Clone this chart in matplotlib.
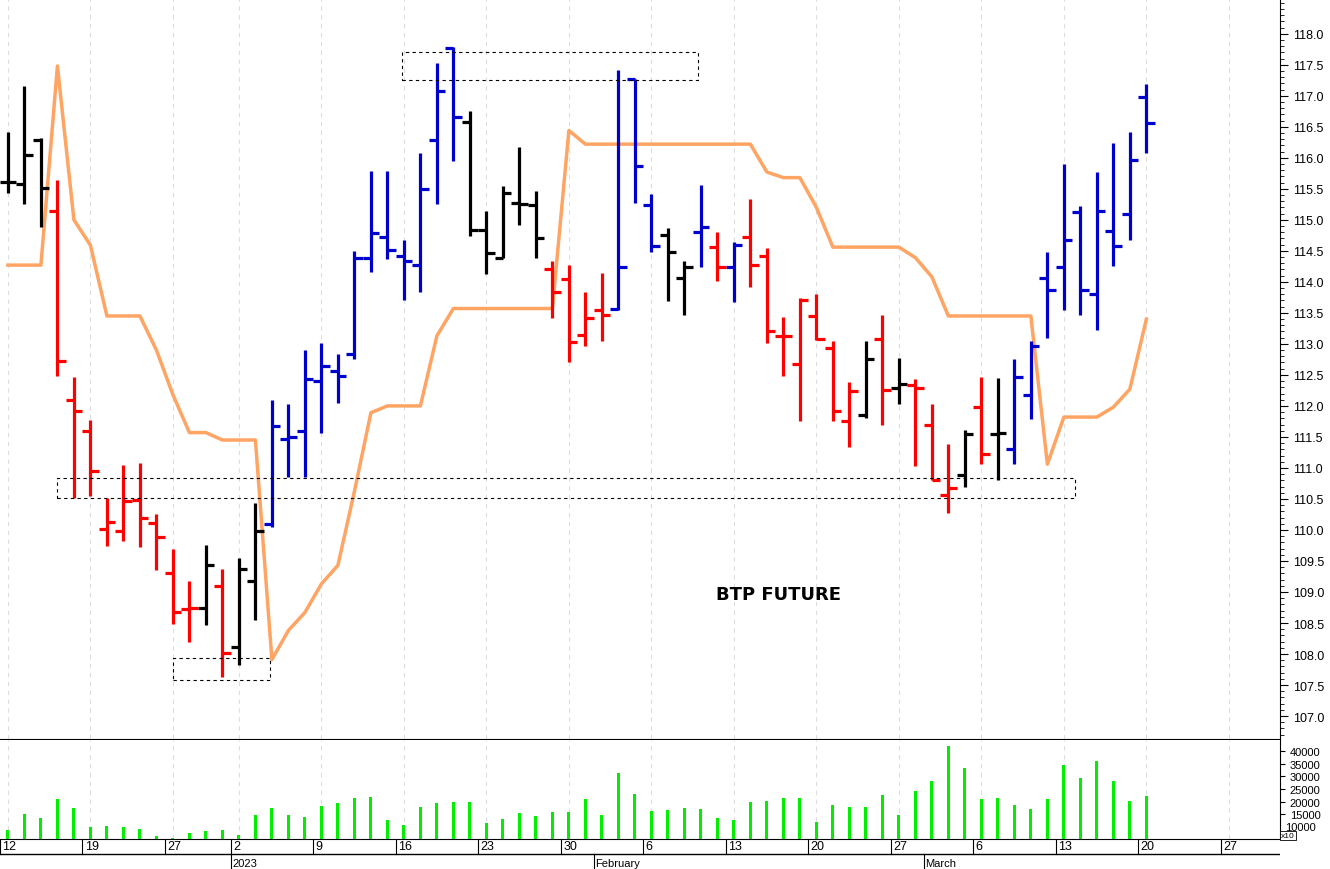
import matplotlib
matplotlib.use("Agg")
import matplotlib.pyplot as plt
import matplotlib.patches as patch
import numpy as np

plt.rcParams["font.family"] = ["Liberation Sans", "DejaVu Sans"]

# daily bars, Dec 12 2022 .. Mar 20 2023 (trading days)
highs = [116.41, 117.16, 116.32, 115.65, 112.47, 111.78, 110.52, 111.05, 111.08, 110.25,
         109.69, 109.18, 109.75, 109.37, 109.54, 110.43, 112.10, 112.03, 112.90, 113.01,
         112.84, 114.49, 115.79, 115.79, 114.68, 116.07, 117.53, 117.78, 116.75, 115.15,
         115.54, 116.17, 115.46, 114.34, 114.27, 113.83, 114.15, 117.41, 117.27, 115.42,
         114.87, 114.34, 115.56, 114.80, 114.64, 115.34, 114.54, 113.44, 113.74, 113.81,
         113.05, 112.39, 113.05, 113.47, 112.78, 112.43, 112.03, 111.39, 111.61, 112.47,
         112.45, 112.76, 113.05, 114.48, 115.90, 115.22, 115.77, 116.24, 116.41, 117.19]
lows = [115.44, 115.26, 114.88, 112.49, 110.52, 110.55, 109.74, 109.83, 109.73, 109.35,
        108.48, 108.20, 108.46, 107.63, 107.82, 108.55, 110.05, 110.86, 110.86, 111.57,
        112.05, 112.75, 114.16, 114.37, 113.70, 113.83, 115.25, 115.95, 114.74, 114.12,
        114.38, 114.91, 114.38, 113.42, 112.71, 112.96, 113.05, 113.54, 115.27, 114.48,
        113.69, 113.46, 114.24, 114.02, 113.68, 113.91, 113.01, 112.49, 111.76, 113.07,
        111.76, 111.33, 111.81, 111.69, 112.03, 111.03, 110.81, 110.28, 110.69, 111.06,
        110.81, 111.06, 111.79, 113.09, 113.55, 113.46, 113.22, 114.25, 114.68, 116.07]
opens = [115.61, 115.58, 116.29, 115.14, 112.10, 111.59, 110.01, 109.99, 110.49, 110.11,
         109.31, 108.72, 108.74, 109.09, 108.12, 109.18, 110.10, 111.47, 111.59, 112.40,
         112.56, 112.84, 114.38, 114.72, 114.42, 114.27, 116.28, 117.77, 116.58, 114.83,
         114.39, 115.27, 115.24, 114.20, 114.05, 113.15, 113.55, 113.57, 117.27, 115.24,
         114.75, 114.07, 114.81, 114.56, 114.24, 114.72, 114.42, 113.13, 112.67, 113.45,
         112.93, 111.76, 111.86, 113.08, 112.29, 112.34, 111.69, 110.57, 110.89, 111.99,
         111.55, 111.30, 112.17, 114.06, 114.24, 115.12, 113.81, 114.82, 115.09, 116.98]
closes = [115.61, 116.05, 115.51, 112.73, 111.91, 110.95, 110.13, 110.47, 110.19, 109.88,
          108.67, 108.74, 109.43, 108.02, 109.37, 109.98, 111.67, 111.50, 112.43, 112.64,
          112.49, 114.38, 114.78, 114.51, 114.34, 115.50, 117.08, 116.65, 114.83, 114.47,
          115.43, 115.25, 114.71, 113.83, 113.03, 113.41, 113.47, 114.24, 115.87, 114.57,
          114.48, 114.24, 114.89, 114.24, 114.59, 114.27, 113.20, 113.13, 113.70, 113.08,
          111.91, 112.24, 112.75, 112.25, 112.35, 112.29, 110.81, 110.68, 111.55, 111.23,
          111.57, 112.47, 112.96, 113.87, 114.67, 113.87, 115.15, 114.58, 115.96, 116.56]
# k = black, r = red, b = blue
bar_colors = list("kkkrrrrrrrrrkrkkbbbbbbbbbbbbkkkkkrrrrbbbkkbrbrrrrrrrkrkrrrkrkbbbbbbbbb")
orange = [114.27, 114.27, 114.27, 117.48, 115.00, 114.59, 113.45, 113.45, 113.45, 112.90,
          112.18, 111.57, 111.57, 111.45, 111.45, 111.45, 107.91, 108.38, 108.67, 109.13,
          109.43, 110.62, 111.89, 112.00, 112.00, 112.00, 113.13, 113.57, 113.57, 113.57,
          113.57, 113.57, 113.57, 113.57, 116.44, 116.22, 116.22, 116.22, 116.22, 116.22,
          116.22, 116.22, 116.22, 116.22, 116.22, 116.22, 115.77, 115.68, 115.68, 115.20,
          114.56, 114.56, 114.56, 114.56, 114.56, 114.39, 114.08, 113.45, 113.45, 113.45,
          113.45, 113.45, 113.45, 111.06, 111.82, 111.82, 111.82, 111.98, 112.27, 113.40]
volume = [8800, 15000, 13500, 21000, 17500, 10000, 10500, 10000, 9300, 6500,
          5500, 7600, 8400, 8800, 6800, 14800, 17500, 14800, 14000, 18300,
          19500, 21500, 21900, 12800, 10800, 18000, 19500, 19900, 19900, 11500,
          13100, 15500, 14400, 15900, 15900, 21000, 14800, 31400, 23100, 16300,
          16700, 17500, 17100, 13500, 12800, 19900, 20300, 21500, 21500, 12000,
          18700, 17900, 17900, 22700, 14800, 24300, 28300, 42100, 33400, 21000,
          21500, 18700, 17100, 21000, 34600, 29400, 36200, 28300, 20300, 22300]
day_pos = [0, 5, 10, 14, 19, 24, 29, 34, 39, 44, 49, 54, 59, 64, 69, 74]
day_labels = ["12", "19", "27", "2", "9", "16", "23", "30", "6", "13", "20", "27", "6", "13", "20", "27"]
month_pos = [14, 36, 56]
month_labels = ["2023", "February", "March"]

cmap = {"k": "black", "r": "#ff0000", "b": "#0000cc"}
W, H = 1330, 870
fig = plt.figure(figsize=(W / 100, H / 100), dpi=100)
ax = fig.add_axes([0, 130 / H, 1280 / W, 740 / H])
axv = fig.add_axes([0, 30 / H, 1280 / W, 99 / H])
axd = fig.add_axes([0, 0, 1280 / W, 30 / H])

x = np.arange(len(highs))
cols = [cmap[c] for c in bar_colors]
ax.vlines(x, lows, highs, colors=cols, lw=2.3, zorder=3)
ax.hlines(opens, x - 0.5, x, colors=cols, lw=2.3, zorder=3)
ax.hlines(closes, x, x + 0.5, colors=cols, lw=2.3, zorder=3)
ax.plot(x, orange, color="#ffa463", lw=2.5, zorder=2)

for (x0, x1, y0, y1) in [(23.9, 41.8, 117.26, 117.71), (3.0, 64.7, 110.52, 110.84), (10.0, 15.9, 107.58, 107.94)]:
    ax.add_patch(patch.Rectangle((x0, y0), x1 - x0, y1 - y0, fill=False, ls=(0, (3, 3)), lw=0.8, ec="black", zorder=4))
ax.text(46.7, 108.97, "BTP FUTURE", fontsize=13, fontweight="bold", ha="center", va="center", family="DejaVu Sans")

xl = (-0.48, 77.1)
ax.set_xlim(xl)
ax.set_ylim(106.63, 118.56)
ax.yaxis.tick_right()
ax.set_yticks(np.arange(107, 118.01, 0.5))
ax.set_yticks(np.arange(106.7, 118.56, 0.1), minor=True)
ax.set_yticklabels([f"{v:.1f}" for v in np.arange(107, 118.01, 0.5)], fontsize=9)
ax.tick_params(axis="y", which="major", length=6, direction="out")
ax.tick_params(axis="y", which="minor", length=3)
ax.set_xticks(day_pos)
ax.tick_params(axis="x", length=0, labelbottom=False)
ax.grid(axis="x", ls=(0, (4, 4)), color="#dddddd", lw=0.8)
for s in ["top", "left"]:
    ax.spines[s].set_visible(False)

axv.bar(x, volume, width=0.18, color="#00ee00", zorder=3)
axv.set_xlim(xl)
axv.set_ylim(5240, 44360)
axv.yaxis.tick_right()
axv.set_yticks(np.arange(15000, 40001, 5000))
axv.set_yticklabels([str(v) for v in range(15000, 40001, 5000)], fontsize=8)
axv.set_xticks(day_pos)
axv.tick_params(axis="x", length=0, labelbottom=False)
axv.grid(axis="x", ls=(0, (4, 4)), color="#dddddd", lw=0.8)
axv.spines["top"].set_visible(False)
axv.spines["left"].set_visible(False)
axv.text(1.004, 0.12, "10000", transform=axv.transAxes, fontsize=8, va="center")
axv.text(1.001, 0.0, "x10", transform=axv.transAxes, fontsize=6, va="bottom",
         bbox=dict(boxstyle="square,pad=0.1", fc="white", ec="black", lw=0.6))

axd.set_xlim(xl)
axd.set_ylim(0, 1)
axd.axis("off")
axd.axhline(0.5, color="black", lw=1)
for p, t in zip(day_pos, day_labels):
    axd.plot([p - 0.5, p - 0.5], [0.5, 1], color="black", lw=0.8)
    axd.text(p - 0.35, 0.75, t, fontsize=9, va="center", ha="left")
for p, t in zip(month_pos, month_labels):
    axd.plot([p - 0.5, p - 0.5], [0, 0.5], color="black", lw=0.8)
    axd.text(p - 0.4, 0.2, t, fontsize=8, va="center", ha="left")

fig.savefig("out.png", dpi=100)
